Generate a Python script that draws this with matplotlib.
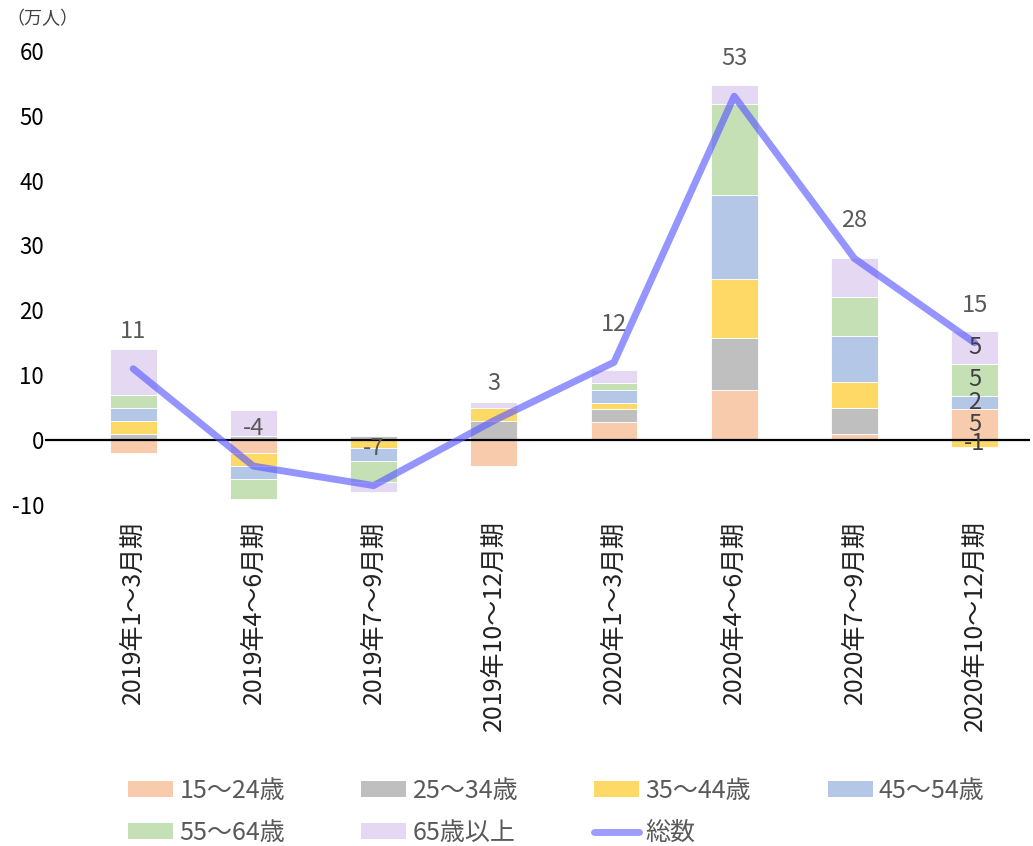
import numpy as np
import matplotlib.pyplot as plt
from matplotlib.patches import Patch
from matplotlib.lines import Line2D

plt.rcParams['font.family'] = ['Noto Sans CJK JP', 'DejaVu Sans']
plt.rcParams['axes.unicode_minus'] = False

quarters = ['2019年1～3月期', '2019年4～6月期', '2019年7～9月期', '2019年10～12月期',
            '2020年1～3月期', '2020年4～6月期', '2020年7～9月期', '2020年10～12月期']

age_names = ['15～24歳', '25～34歳', '35～44歳', '45～54歳', '55～64歳', '65歳以上']
age_15_24 = [-2.0, -2.0, 0.0, -4.0, 2.8, 7.8, 1.0, 4.8]
age_25_34 = [1.0, 0.7, 0.7, 2.9, 2.0, 8.0, 4.0, 0.0]
age_35_44 = [2.0, -2.0, -1.2, 2.0, 1.0, 9.0, 4.0, -1.0]
age_45_54 = [2.0, -2.0, -2.0, 0.0, 2.0, 13.0, 7.0, 2.0]
age_55_64 = [2.0, -3.0, -3.3, 0.0, 1.0, 14.0, 6.0, 5.0]
age_65 = [7.0, 4.0, -1.5, 1.0, 2.0, 3.0, 6.0, 5.0]
total = [11, -4, -7, 3, 12, 53, 28, 15]

colors = ['#F8CBAD', '#BFBFBF', '#FFD966', '#B4C7E7', '#C5E0B4', '#E5D8F3']
line_color = '#5c5cff'

series = [age_15_24, age_25_34, age_35_44, age_45_54, age_55_64, age_65]

fig = plt.figure(figsize=(10.33, 8.46), dpi=100)
ax = fig.add_axes([0.044, 0.403, 0.953, 0.537])

x = np.arange(len(quarters))
pos_base = np.zeros(len(x))
neg_base = np.zeros(len(x))
for vals, c, name in zip(series, colors, age_names):
    v = np.array(vals)
    bottom = np.where(v >= 0, pos_base, neg_base)
    ax.bar(x, v, 0.39, bottom=bottom, color=c, edgecolor='white', linewidth=0.6, label=name)
    # 最後の期だけ内訳の数値を表示
    i = len(x) - 1
    if v[i] != 0:
        ax.text(x[i], bottom[i] + v[i] / 2, f'{v[i]:.0f}', ha='center', va='center',
                fontsize=17, color='#404040', zorder=5)
    pos_base = pos_base + np.where(v >= 0, v, 0)
    neg_base = neg_base + np.where(v < 0, v, 0)

ax.axhline(0, color='black', lw=1.6, zorder=3)
ax.plot(x, total, color=line_color, alpha=0.65, lw=5, solid_capstyle='round', zorder=4)
for xi, t in zip(x, total):
    ax.annotate(str(t), (xi, t), xytext=(0, 27), textcoords='offset points',
                ha='center', va='center', fontsize=17, color='#595959')

ax.set_xlim(-0.73, 7.46)
ax.set_ylim(-10, 60)
ax.set_yticks(range(-10, 61, 10))
ax.set_xticks(x)
ax.set_xticklabels(quarters, rotation=90, fontsize=18, color='#222222')
ax.tick_params(axis='x', length=0, pad=11)
ax.tick_params(axis='y', length=0, pad=1, labelsize=16)
for s in ax.spines.values():
    s.set_visible(False)

fig.text(0.006, 0.978, '（万人）', fontsize=13, color='#404040', ha='left', va='center')

patches = [Patch(facecolor=c, label=n) for c, n in zip(colors, age_names)]
line_h = Line2D([], [], color=line_color, alpha=0.6, lw=5, solid_capstyle='round', label='総数')
order = [patches[0], patches[4], patches[1], patches[5], patches[2], line_h, patches[3]]
fig.legend(handles=order, ncol=4, loc='lower left', bbox_to_anchor=(0.124, 0.0),
           frameon=False, fontsize=18, handlelength=1.8, handleheight=0.6,
           handletextpad=0.25, columnspacing=3.05, labelspacing=0.64,
           borderpad=0.0, borderaxespad=0.0, labelcolor='#595959')

fig.savefig('out.png', dpi=100)
